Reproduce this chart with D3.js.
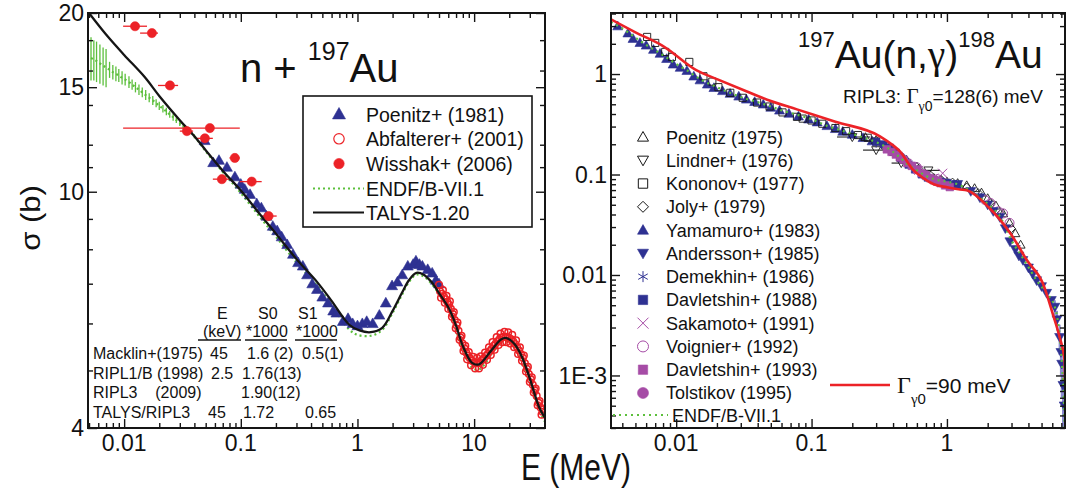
<!DOCTYPE html>
<html lang="en">
<head>
<meta charset="UTF-8">
<title>197Au total and capture cross sections</title>
<script src="https://d3js.org/d3.v7.min.js"></script>
<style>
  body { margin: 0; background: #fff; }
  svg text { font-family: "Liberation Sans", Arial, Helvetica, sans-serif; fill: #111; white-space: pre; }
  svg .greek { font-family: "Liberation Serif", "Times New Roman", serif; }
</style>
</head>
<body>
<svg width="1066" height="496"></svg>
<script>
// ---------- left panel: n + 197Au total cross section (E in MeV, sigma in b) ----------
const talysE = [0.005, 0.007, 0.01, 0.015, 0.02, 0.03, 0.04, 0.05, 0.07, 0.1, 0.15, 0.2, 0.3, 0.45, 0.6, 0.85, 1.04, 1.3, 1.63, 2.0, 2.4, 2.77, 3.2, 3.7, 4.3, 5.0, 6.1, 7.0, 8.0, 9.6, 11, 14, 17, 19, 22, 25.6, 30, 36, 40.5];
const talysS = [20.0, 18.4, 17.0, 15.6, 14.5, 13.2, 12.4, 11.75, 10.85, 10.05, 9.1, 8.5, 7.7, 7.05, 6.55, 5.97, 5.84, 5.8, 5.9, 6.3, 6.75, 7.1, 7.3, 7.25, 7.05, 6.75, 6.35, 5.95, 5.5, 5.15, 5.12, 5.4, 5.64, 5.67, 5.55, 5.28, 4.85, 4.34, 4.16];

const endfE = [0.0052, 0.0055, 0.0058, 0.0062, 0.0066, 0.007, 0.0075, 0.008, 0.0085, 0.009, 0.0096, 0.0102, 0.011, 0.0117, 0.0125, 0.0134, 0.0143, 0.0153, 0.0164, 0.0176, 0.0188, 0.02, 0.0215, 0.023, 0.0246, 0.0263, 0.028, 0.03, 0.032, 0.0345, 0.037, 0.04, 0.05, 0.07, 0.1, 0.15, 0.2, 0.3, 0.45, 0.6, 0.85, 1.0, 1.3, 1.63, 2.0, 2.4, 2.77, 3.2, 3.7, 4.7, 6.1, 7.0, 8.0, 9.6, 11, 14, 17, 19, 22, 25.6, 30, 36, 40.5];
const endfS = [16.8, 16.7, 16.6, 16.45, 16.3, 16.2, 16.05, 15.9, 15.8, 15.7, 15.55, 15.45, 15.3, 15.15, 15.0, 14.85, 14.7, 14.55, 14.4, 14.25, 14.1, 13.95, 13.8, 13.65, 13.5, 13.35, 13.2, 13.05, 12.9, 12.75, 12.6, 12.4, 11.7, 10.8, 9.95, 9.0, 8.4, 7.6, 6.95, 6.45, 5.86, 5.74, 5.72, 5.85, 6.25, 6.7, 7.05, 7.25, 7.2, 6.85, 6.3, 5.85, 5.4, 5.05, 5.02, 5.3, 5.58, 5.6, 5.48, 5.2, 4.78, 4.28, 4.1];
const endfErr = [1.4, 1.3, 1.3, 1.25, 1.2, 1.2, 0.5, 0.45, 0.45, 0.4, 0.4, 0.35, 0.35, 0.3, 0.3, 0.3, 0.28, 0.28, 0.25, 0.25, 0.22, 0.22, 0.2, 0.2, 0.18, 0.18, 0.15, 0.15, 0.12, 0.12, 0.1, 0.1];

const poenitz81E = [0.049, 0.058, 0.065, 0.076, 0.089, 0.1, 0.108, 0.12, 0.137, 0.15, 0.166, 0.188, 0.205, 0.224, 0.25, 0.28, 0.31, 0.34, 0.37, 0.41, 0.45, 0.5, 0.56, 0.62, 0.66, 0.75, 0.83, 0.91, 1.0, 1.1, 1.2, 1.35, 1.54, 1.75, 1.98, 2.2, 2.42, 2.7, 3.0, 3.17, 3.4, 3.6, 4.0, 4.37, 4.7, 5.0];
const poenitz81S = [12.2, 11.2, 11.3, 11.0, 10.6, 10.3, 10.1, 9.9, 9.55, 9.4, 9.1, 8.75, 8.6, 8.4, 8.15, 7.85, 7.6, 7.5, 7.25, 7.0, 6.85, 6.65, 6.5, 6.3, 6.25, 6.05, 6.12, 6.0, 5.95, 6.0, 6.05, 6.0, 6.2, 6.5, 6.95, 7.05, 7.25, 7.5, 7.55, 7.65, 7.55, 7.5, 7.4, 7.3, 7.1, 7.0];

const abfE = [5.0, 5.1, 5.2, 5.3, 5.4, 5.5, 5.6, 5.7, 5.8, 5.9, 6.0, 6.1, 6.2, 6.32, 6.45, 6.57, 6.7, 6.82, 6.95, 7.07, 7.2, 7.35, 7.5, 7.65, 7.8, 7.95, 8.1, 8.25, 8.4, 8.55, 8.7, 8.85, 9.0, 9.2, 9.4, 9.6, 9.8, 10.0, 10.2, 10.4, 10.6, 10.8, 11.0, 11.2, 11.4, 11.65, 11.9, 12.15, 12.4, 12.65, 12.9, 13.15, 13.4, 13.65, 13.9, 14.15, 14.4, 14.7, 15.0, 15.3, 15.6, 15.9, 16.2, 16.5, 16.8, 17.15, 17.5, 17.85, 18.2, 18.55, 18.9, 19.25, 19.6, 20.0, 20.4, 20.8, 21.2, 21.6, 22.0, 22.45, 22.9, 23.35, 23.8, 24.25, 24.7, 25.2, 25.7, 26.2, 26.7, 27.25, 27.8, 28.35, 28.9, 29.45, 30.0, 30.6, 31.2, 31.8, 32.4, 33.05, 33.7, 34.35, 35.0, 35.7, 36.4, 37.1, 37.8, 38.55, 39.3];
const abfS = [6.97, 6.80, 6.63, 6.73, 6.83, 6.66, 6.50, 6.59, 6.68, 6.52, 6.35, 6.45, 6.54, 6.35, 6.16, 6.22, 6.27, 6.08, 5.89, 5.96, 6.02, 5.83, 5.63, 5.68, 5.72, 5.55, 5.39, 5.45, 5.50, 5.36, 5.22, 5.30, 5.37, 5.24, 5.10, 5.19, 5.27, 5.16, 5.04, 5.15, 5.25, 5.15, 5.04, 5.16, 5.28, 5.20, 5.11, 5.24, 5.36, 5.29, 5.21, 5.34, 5.47, 5.39, 5.31, 5.44, 5.58, 5.50, 5.42, 5.55, 5.69, 5.60, 5.52, 5.64, 5.77, 5.68, 5.58, 5.70, 5.81, 5.70, 5.58, 5.69, 5.80, 5.67, 5.55, 5.64, 5.74, 5.60, 5.47, 5.54, 5.62, 5.47, 5.33, 5.40, 5.47, 5.33, 5.19, 5.25, 5.30, 5.14, 4.98, 5.03, 5.07, 4.93, 4.78, 4.83, 4.87, 4.73, 4.59, 4.63, 4.66, 4.53, 4.37, 4.41, 4.44, 4.33, 4.21, 4.26, 4.30];

const wisE   = [0.0124, 0.0173, 0.0247, 0.0345, 0.0543, 0.0492, 0.0889, 0.0688, 0.124, 0.173];
const wisS   = [19.0, 18.5, 15.1, 12.65, 12.8, 12.3, 11.4, 10.5, 10.4, 9.1];
const wisElo = [0.0098, 0.0137, 0.0195, 0.030, 0.0098, 0.042, 0.080, 0.0576, 0.098, 0.151];
const wisEhi = [0.0157, 0.0195, 0.029, 0.039, 0.098, 0.0576, 0.098, 0.080, 0.151, 0.203];

const leftXTicks = [0.01, 0.1, 1, 10];
const leftXLabels = ["0.01", "0.1", "1", "10"];
const leftYTicks = [4, 10, 15, 20];
const leftYLabels = ["4", "10", "15", "20"];
const leftYMinor = [5, 6, 7, 8, 9, 11, 12, 14, 16, 18];

const tableRows = [
  ["Macklin+(1975)", "45", "1.6 (2)", "0.5(1)"],
  ["RIPL1/B (1998)", "2.5", "1.76(13)", ""],
  ["RIPL3    (2009)", "", "1.90(12)", ""],
  ["TALYS/RIPL3", "45", "1.72", "0.65"]
];

// ---------- right panel: 197Au(n,g)198Au capture cross section ----------
const redE = [0.0033, 0.005, 0.008, 0.0143, 0.02, 0.0333, 0.047, 0.078, 0.15, 0.32, 0.4, 0.45, 0.56, 0.655, 0.8, 1.0, 1.25, 1.4, 2.04, 3.0, 3.9, 5.1, 6.05, 6.8, 7.4, 7.45];
const redS = [3.5, 2.6, 1.9, 1.08, 0.89, 0.67, 0.555, 0.445, 0.335, 0.24, 0.195, 0.17, 0.112, 0.094, 0.08, 0.0747, 0.071, 0.0697, 0.047, 0.025, 0.014, 0.0083, 0.0041, 0.0024, 0.0014, 0.0009];

const endfCapE = [0.0033, 0.004, 0.005, 0.006, 0.007, 0.008, 0.01, 0.012, 0.015, 0.02, 0.025, 0.03, 0.04, 0.05, 0.06, 0.08, 0.1, 0.13, 0.17, 0.22, 0.3, 0.35, 0.4, 0.45, 0.5, 0.6, 0.7, 0.8, 1.0, 1.2, 1.5, 2.0, 2.5, 3.0, 3.5, 4.0, 4.6, 5.45, 6.27, 6.8, 7.1, 7.3, 7.4];
const endfCapS = [3.3, 2.85, 2.3, 1.95, 1.72, 1.54, 1.26, 1.09, 0.89, 0.74, 0.65, 0.59, 0.525, 0.475, 0.435, 0.39, 0.355, 0.305, 0.272, 0.243, 0.21, 0.19, 0.168, 0.148, 0.13, 0.11, 0.097, 0.09, 0.085, 0.08, 0.068, 0.051, 0.037, 0.022, 0.016, 0.012, 0.0088, 0.0066, 0.0048, 0.0025, 0.0012, 0.0006, 0.0003];

const poenitz75E = [0.25, 0.3, 0.4, 0.5, 0.6, 0.7, 0.8, 0.9, 1.0, 1.2, 1.4, 1.6, 1.8, 2.0, 2.3, 2.6, 2.9, 3.2, 3.5];
const poenitz75S = [0.235, 0.22, 0.175, 0.14, 0.12, 0.1, 0.092, 0.088, 0.085, 0.082, 0.078, 0.073, 0.066, 0.058, 0.049, 0.041, 0.033, 0.026, 0.02];
const lindnerE = [0.2, 0.3, 0.46, 0.73];
const lindnerS = [0.236, 0.175, 0.13, 0.11];
const lindnerElo = [0.154, 0.24, 0.39, 0.6];
const lindnerEhi = [0.27, 0.38, 0.56, 0.89];
const kononovE = [0.0061, 0.007, 0.0083, 0.0093, 0.0125, 0.0159, 0.0185, 0.0205, 0.0251, 0.031, 0.0396, 0.049, 0.061, 0.078, 0.086, 0.1, 0.12, 0.15, 0.18, 0.22, 0.26, 0.3, 0.35, 0.4, 0.45];
const kononovS = [2.34, 2.04, 1.66, 1.48, 1.32, 0.95, 0.84, 0.74, 0.65, 0.58, 0.52, 0.475, 0.415, 0.375, 0.36, 0.345, 0.32, 0.29, 0.27, 0.247, 0.232, 0.213, 0.195, 0.168, 0.148];
const jolyE = [0.5, 0.62, 0.75, 0.9, 1.1, 1.4, 1.7, 2.1, 2.5, 3.0];
const jolyS = [0.14, 0.115, 0.1, 0.09, 0.084, 0.075, 0.066, 0.053, 0.041, 0.029];
const yamamuroE = [0.0037, 0.0044, 0.0048, 0.0054, 0.006, 0.0068, 0.0076, 0.0085, 0.0095, 0.0107, 0.012, 0.0135, 0.015, 0.017, 0.019, 0.022, 0.025, 0.029, 0.033, 0.038, 0.044, 0.05, 0.058, 0.068, 0.08, 0.095, 0.11, 0.13, 0.15, 0.17, 0.2, 0.24, 0.28];
const yamamuroS = [3.0, 2.55, 2.25, 2.05, 1.93, 1.75, 1.6, 1.42, 1.25, 1.16, 1.08, 0.95, 0.87, 0.79, 0.73, 0.68, 0.64, 0.6, 0.56, 0.53, 0.5, 0.465, 0.435, 0.405, 0.38, 0.355, 0.332, 0.305, 0.285, 0.268, 0.25, 0.232, 0.215];
const anderssonE = [1.2, 1.5, 1.75, 2.0, 2.2, 2.46, 2.7, 2.92, 3.2, 3.4, 3.64, 4.0, 4.3, 4.6, 5.0, 5.45, 5.9, 6.27, 6.5, 6.8, 6.95, 7.05, 7.2, 7.35];
const anderssonS = [0.08, 0.068, 0.059, 0.05, 0.043, 0.0375, 0.029, 0.0215, 0.018, 0.0155, 0.014, 0.0118, 0.0102, 0.0088, 0.0077, 0.0066, 0.0056, 0.0048, 0.0036, 0.0024, 0.0017, 0.0013, 0.0008, 0.0005];
const anderssonErr = [0, 0, 0, 0, 0, 0, 0, 0, 0, 0, 0, 0, 0, 0, 0, 0, 0, 0.0008, 0.0008, 0.0008, 0.0007, 0.0007, 0.0006, 0.0005];
const demekhinE = [0.3, 0.36, 0.44, 0.52];
const demekhinS = [0.205, 0.188, 0.158, 0.13];
const davl88E = [0.3, 0.34, 0.38, 0.42, 0.46, 0.52, 0.58, 0.65, 0.72, 0.8, 0.9, 1.0, 1.1, 1.2];
const davl88S = [0.212, 0.2, 0.185, 0.165, 0.145, 0.125, 0.112, 0.1, 0.093, 0.088, 0.085, 0.083, 0.08, 0.078];
const sakamotoE = [0.62, 0.8, 0.93];
const sakamotoS = [0.11, 0.092, 0.103];
const voignierE = [0.6, 0.85, 1.9, 2.1, 2.4, 2.6, 2.9];
const voignierS = [0.118, 0.09, 0.056, 0.052, 0.043, 0.041, 0.033];
const davl93E = [0.36, 0.39, 0.42, 0.45, 0.48, 0.51, 0.55, 0.6, 0.65, 0.7, 0.75, 0.8, 0.85, 0.9, 0.97, 1.05];
const davl93S = [0.178, 0.168, 0.158, 0.148, 0.14, 0.13, 0.122, 0.112, 0.103, 0.097, 0.092, 0.088, 0.085, 0.082, 0.078, 0.075];
const tolstikovE = [0.55, 0.7, 0.85];
const tolstikovS = [0.122, 0.1, 0.087];

const rightXTicks = [0.01, 0.1, 1];
const rightXLabels = ["0.01", "0.1", "1"];
const rightYTicks = [0.001, 0.01, 0.1, 1];
const rightYLabels = ["1E-3", "0.01", "0.1", "1"];

// colours
const black = "#151515", navy = "#2e3192", red = "#ec2227", green = "#5cbf3c", purple = "#a64ca6";

const svg = d3.select("svg");

// scales
const xL = d3.scaleLog().domain([0.0049, 40.5]).range([88, 545]);
const yL = d3.scaleLog().domain([4, 20]).range([428, 13]);
const xR = d3.scaleLog().domain([0.0033, 7.45]).range([611, 1065]);
const yR = d3.scaleLog().domain([3e-4, 4.05]).range([428, 13]);

function minorTicks(domain) {
  const [a, b] = domain;
  return [1e-4, 1e-3, 0.01, 0.1, 1, 10]
    .flatMap(d => [2, 3, 4, 5, 6, 7, 8, 9].map(m => +(d * m).toPrecision(3)))
    .filter(v => v >= a && v <= b);
}

// marker shapes, h = half size
function shape(type, h) {
  switch (type) {
    case "triUp": return `M0,${-h}L${h},${h * 0.75}L${-h},${h * 0.75}Z`;
    case "triDown": return `M0,${h}L${h},${-h * 0.75}L${-h},${-h * 0.75}Z`;
    case "square": return `M${-h * 0.85},${-h * 0.85}H${h * 0.85}V${h * 0.85}H${-h * 0.85}Z`;
    case "diamond": return `M0,${-h}L${h},0L0,${h}L${-h},0Z`;
    case "cross": return `M${-h},${-h}L${h},${h}M${h},${-h}L${-h},${h}`;
    case "asterisk": return `M0,${-h}V${h}M${-h * 0.87},${-h / 2}L${h * 0.87},${h / 2}M${h * 0.87},${-h / 2}L${-h * 0.87},${h / 2}`;
    default: return `M${h},0A${h},${h},0,1,1,${-h},0A${h},${h},0,1,1,${h},0Z`;
  }
}

function points(g, x, y, E, S, type, h, color, filled, sw) {
  g.append("g").selectAll("path").data(d3.zip(E, S)).join("path")
    .attr("transform", d => `translate(${x(d[0])},${y(d[1])})`)
    .attr("d", shape(type, h))
    .attr("fill", filled ? color : "none")
    .attr("stroke", color)
    .attr("stroke-width", sw || (filled ? 0.6 : 1.1));
}

function axes(x, y, xMaj, xLab, yMaj, yLab, yMin, labSize) {
  const [xa, xb] = x.range(), [yb, ya] = y.range();
  const xMin = minorTicks(x.domain());
  const g = svg.append("g");
  const put = (axis, vals, len, tr) => {
    const a = g.append("g").attr("transform", tr)
      .call(axis.tickValues(vals).tickSize(len).tickSizeOuter(0).tickFormat(""));
    a.select(".domain").remove();
    a.selectAll("line").attr("stroke", black).attr("stroke-width", 1.4);
  };
  put(d3.axisBottom(x), xMaj, -9, `translate(0,${yb})`);
  put(d3.axisBottom(x), xMin, -5, `translate(0,${yb})`);
  put(d3.axisTop(x), xMaj, -9, `translate(0,${ya})`);
  put(d3.axisTop(x), xMin, -5, `translate(0,${ya})`);
  put(d3.axisLeft(y), yMaj, -9, `translate(${xa},0)`);
  put(d3.axisLeft(y), yMin, -5, `translate(${xa},0)`);
  put(d3.axisRight(y), yMaj, -9, `translate(${xb},0)`);
  put(d3.axisRight(y), yMin, -5, `translate(${xb},0)`);
  g.append("rect").attr("x", xa).attr("y", ya).attr("width", xb - xa).attr("height", yb - ya)
    .attr("fill", "none").attr("stroke", black).attr("stroke-width", 2);
  g.append("g").selectAll("text").data(xMaj).join("text")
    .attr("x", d => x(d)).attr("y", yb + 23).attr("text-anchor", "middle")
    .attr("font-size", labSize).text((d, i) => xLab[i]);
  g.append("g").selectAll("text").data(yMaj).join("text")
    .attr("x", xa - 4).attr("y", d => y(d)).attr("dy", "0.36em").attr("text-anchor", "end")
    .attr("font-size", labSize).text((d, i) => yLab[i]);
}

const defs = svg.append("defs");
defs.append("clipPath").attr("id", "clipL").append("rect").attr("x", 88).attr("y", 13).attr("width", 457).attr("height", 415);
defs.append("clipPath").attr("id", "clipR").append("rect").attr("x", 611).attr("y", 13).attr("width", 454).attr("height", 415);

// ================= left panel =================
const gL = svg.append("g").attr("clip-path", "url(#clipL)");
const lineL = d3.line().x(d => xL(d[0])).y(d => yL(d[1])).curve(d3.curveCatmullRom.alpha(0.5));

// ENDF error bars (resonance-averaged region) and dotted curve
gL.append("g").selectAll("line").data(d3.zip(endfE, endfS, endfErr)).join("line")
  .attr("x1", d => xL(d[0])).attr("x2", d => xL(d[0]))
  .attr("y1", d => yL(d[1] - d[2])).attr("y2", d => yL(d[1] + d[2]))
  .attr("stroke", green).attr("stroke-width", 1.3);
gL.append("path").datum(d3.zip(endfE, endfS)).attr("d", lineL)
  .attr("fill", "none").attr("stroke", green).attr("stroke-width", 2.2).attr("stroke-dasharray", "2,3");

points(gL, xL, yL, poenitz81E, poenitz81S, "triUp", 5.5, navy, true);
points(gL, xL, yL, abfE, abfS, "circle", 3.3, red, false, 1.5);

// Wisshak energy bars
gL.append("g").selectAll("line").data(d3.zip(wisElo, wisEhi, wisS)).join("line")
  .attr("x1", d => xL(d[0])).attr("x2", d => xL(d[1]))
  .attr("y1", d => yL(d[2])).attr("y2", d => yL(d[2]))
  .attr("stroke", red).attr("stroke-width", 1.3);

gL.append("path").datum(d3.zip(talysE, talysS)).attr("d", lineL)
  .attr("fill", "none").attr("stroke", black).attr("stroke-width", 2.3);
points(gL, xL, yL, wisE, wisS, "circle", 4.6, red, true);

axes(xL, yL, leftXTicks, leftXLabels, leftYTicks, leftYLabels, leftYMinor, 23);

// title
const t1 = svg.append("text").attr("x", 240).attr("y", 82).attr("font-size", 40);
t1.append("tspan").text("n + ");
t1.append("tspan").attr("font-size", 25).attr("dy", -22).text("197");
t1.append("tspan").attr("dy", 22).text("Au");

// legend
const lg = svg.append("g");
lg.append("rect").attr("x", 303).attr("y", 96).attr("width", 229).attr("height", 131)
  .attr("fill", "#fff").attr("stroke", black).attr("stroke-width", 1.6);
const legL = [
  ["Poenitz+ (1981)", "triUp", navy, true],
  ["Abfalterer+ (2001)", "circle", red, false],
  ["Wisshak+ (2006)", "circle", red, true]
];
legL.forEach((d, i) => {
  const yy = 114 + i * 24.8;
  lg.append("path").attr("transform", `translate(339,${yy})`)
    .attr("d", shape(d[1], d[1] === "triUp" ? 6.5 : 5.2))
    .attr("fill", d[3] ? d[2] : "none").attr("stroke", d[2]).attr("stroke-width", d[3] ? 0.6 : 1.2);
  lg.append("text").attr("x", 366).attr("y", yy + 7.5).attr("font-size", 19.5).text(d[0]);
});
lg.append("line").attr("x1", 313).attr("x2", 364).attr("y1", 188.5).attr("y2", 188.5)
  .attr("stroke", green).attr("stroke-width", 2.2).attr("stroke-dasharray", "2,3");
lg.append("text").attr("x", 366).attr("y", 196).attr("font-size", 19.5).text("ENDF/B-VII.1");
lg.append("line").attr("x1", 313).attr("x2", 364).attr("y1", 212.5).attr("y2", 212.5)
  .attr("stroke", black).attr("stroke-width", 2.2);
lg.append("text").attr("x", 366).attr("y", 220).attr("font-size", 19.5).text("TALYS-1.20");

// strength-function table
const tb = svg.append("g");
[["E", 217, 319], ["S0", 258, 319], ["S1", 298, 319], ["(keV)", 203, 337], ["*1000", 246, 337], ["*1000", 296, 337]]
  .forEach(d => tb.append("text").attr("x", d[1]).attr("y", d[2]).attr("font-size", 16).text(d[0]));
[[198, 241], [245, 287], [295, 337]].forEach(d =>
  tb.append("line").attr("x1", d[0]).attr("x2", d[1]).attr("y1", 340).attr("y2", 340)
    .attr("stroke", black).attr("stroke-width", 1.3));
const colX = [[93, 210, 247, 302], [93, 211, 242, 302], [93, 211, 241, 302], [93, 208, 243, 305]];
tableRows.forEach((r, i) => {
  r.forEach((c, j) => {
    if (c) tb.append("text").attr("x", colX[i][j]).attr("y", 359 + i * 19.7).attr("font-size", 16).text(c);
  });
});

// ================= right panel =================
const gR = svg.append("g").attr("clip-path", "url(#clipR)");
const lineR = d3.line().x(d => xR(d[0])).y(d => yR(d[1])).curve(d3.curveMonotoneX);

// Lindner energy-resolution bars
gR.append("g").selectAll("line").data(d3.zip(lindnerElo, lindnerEhi, lindnerS)).join("line")
  .attr("x1", d => xR(d[0])).attr("x2", d => xR(d[1]))
  .attr("y1", d => yR(d[2])).attr("y2", d => yR(d[2]))
  .attr("stroke", black).attr("stroke-width", 1.1);
// Andersson error bars near threshold
gR.append("g").selectAll("line").data(d3.zip(anderssonE, anderssonS, anderssonErr).filter(d => d[2] > 0)).join("line")
  .attr("x1", d => xR(d[0])).attr("x2", d => xR(d[0]))
  .attr("y1", d => yR(d[1] + d[2])).attr("y2", d => yR(Math.max(d[1] - d[2], 1e-4)))
  .attr("stroke", "#8a8ad0").attr("stroke-width", 2);

points(gR, xR, yR, yamamuroE, yamamuroS, "triUp", 5, navy, true);
points(gR, xR, yR, kononovE, kononovS, "square", 4.2, black, false, 0.9);
points(gR, xR, yR, poenitz75E, poenitz75S, "triUp", 4.5, black, false, 0.9);
points(gR, xR, yR, lindnerE, lindnerS, "triDown", 4.5, black, false, 0.9);
points(gR, xR, yR, jolyE, jolyS, "diamond", 4, black, false, 0.9);
points(gR, xR, yR, davl88E, davl88S, "square", 4.2, navy, true);
points(gR, xR, yR, demekhinE, demekhinS, "asterisk", 4.5, navy, false, 1);
points(gR, xR, yR, davl93E, davl93S, "square", 4.5, purple, true);
points(gR, xR, yR, tolstikovE, tolstikovS, "circle", 4, purple, true);
points(gR, xR, yR, voignierE, voignierS, "circle", 4.5, purple, false, 1);
points(gR, xR, yR, sakamotoE, sakamotoS, "cross", 4.5, purple, false, 1);
points(gR, xR, yR, anderssonE, anderssonS, "triDown", 5, navy, true);

gR.append("path").datum(d3.zip(endfCapE, endfCapS)).attr("d", lineR)
  .attr("fill", "none").attr("stroke", green).attr("stroke-width", 2.2).attr("stroke-dasharray", "2,4");
gR.append("path").datum(d3.zip(redE, redS)).attr("d", lineR)
  .attr("fill", "none").attr("stroke", red).attr("stroke-width", 2.6);

axes(xR, yR, rightXTicks, rightXLabels, rightYTicks, rightYLabels, minorTicks(yR.domain()), 23);

// title
const t2 = svg.append("text").attr("x", 798).attr("y", 47).attr("font-size", 22);
t2.append("tspan").text("197");
t2.append("tspan").attr("font-size", 39).attr("dy", 21).text("Au(n,");
t2.append("tspan").attr("font-size", 39).attr("class", "greek").text("γ");
t2.append("tspan").attr("font-size", 39).text(")");
t2.append("tspan").attr("dy", -21).text("198");
t2.append("tspan").attr("font-size", 39).attr("dy", 21).text("Au");

const t3 = svg.append("text").attr("x", 843).attr("y", 103).attr("font-size", 19);
t3.append("tspan").text("RIPL3: ");
t3.append("tspan").attr("class", "greek").attr("font-size", 21).text("Γ");
t3.append("tspan").attr("class", "greek").attr("font-size", 14).attr("dy", 8).text("γ");
t3.append("tspan").attr("font-size", 14).text("0");
t3.append("tspan").attr("dy", -8).text("=128(6) meV");

// legend
const legR = [
  ["Poenitz (1975)", "triUp", black, false],
  ["Lindner+ (1976)", "triDown", black, false],
  ["Kononov+ (1977)", "square", black, false],
  ["Joly+ (1979)", "diamond", black, false],
  ["Yamamuro+ (1983)", "triUp", navy, true],
  ["Andersson+ (1985)", "triDown", navy, true],
  ["Demekhin+ (1986)", "asterisk", navy, false],
  ["Davletshin+ (1988)", "square", navy, true],
  ["Sakamoto+ (1991)", "cross", purple, false],
  ["Voignier+ (1992)", "circle", purple, false],
  ["Davletshin+ (1993)", "square", purple, true],
  ["Tolstikov (1995)", "circle", purple, true]
];
const lr = svg.append("g");
legR.forEach((d, i) => {
  const yy = 137 + i * 23.27;
  lr.append("path").attr("transform", `translate(643,${yy})`)
    .attr("d", shape(d[1], 5.5))
    .attr("fill", d[3] ? d[2] : "none").attr("stroke", d[2]).attr("stroke-width", d[3] ? 0.6 : 1);
  lr.append("text").attr("x", 666).attr("y", yy + 6.5).attr("font-size", 18).text(d[0]);
});
lr.append("line").attr("x1", 613).attr("x2", 668).attr("y1", 415).attr("y2", 415)
  .attr("stroke", green).attr("stroke-width", 2.2).attr("stroke-dasharray", "2,4");
lr.append("text").attr("x", 672).attr("y", 422).attr("font-size", 18).text("ENDF/B-VII.1");

lr.append("line").attr("x1", 830).attr("x2", 890).attr("y1", 385).attr("y2", 385)
  .attr("stroke", red).attr("stroke-width", 2.6);
const t4 = lr.append("text").attr("x", 897).attr("y", 393).attr("font-size", 21);
t4.append("tspan").attr("class", "greek").attr("font-size", 24).text("Γ");
t4.append("tspan").attr("class", "greek").attr("font-size", 15).attr("dy", 11).text("γ");
t4.append("tspan").attr("font-size", 15).text("0");
t4.append("tspan").attr("dy", -11).text("=90 meV");

// axis titles
svg.append("g").attr("transform", "translate(40,218) rotate(-90) scale(1.15,1)")
  .append("text").attr("text-anchor", "middle").attr("font-size", 27).text("σ (b)");
svg.append("g").attr("transform", "translate(576,480) scale(1,1.2)")
  .append("text").attr("text-anchor", "middle").attr("font-size", 30).text("E (MeV)");
</script>
</body>
</html>
